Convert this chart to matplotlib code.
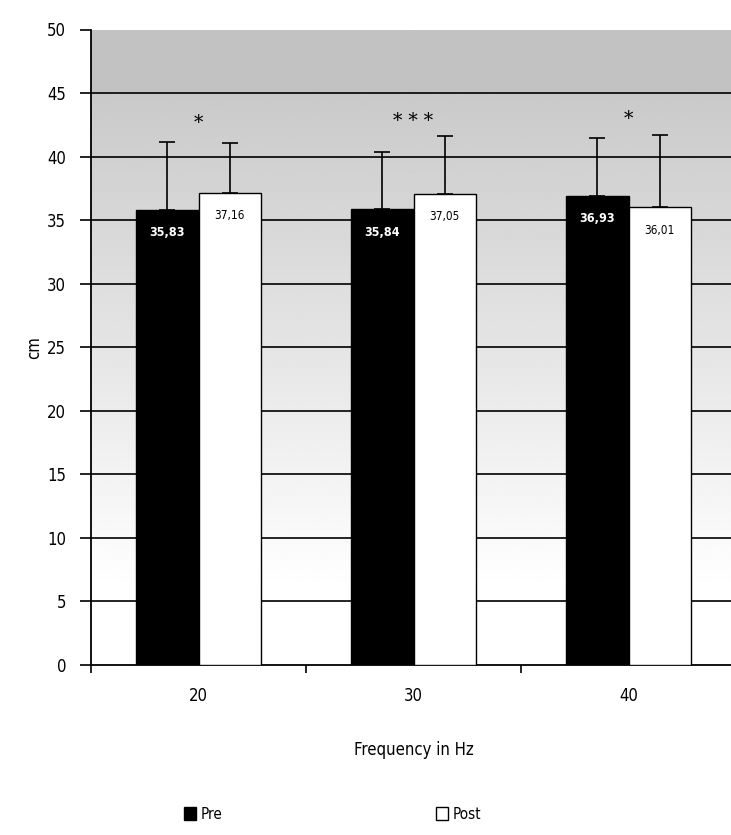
import numpy as np
import matplotlib
matplotlib.use("Agg")
import matplotlib.pyplot as plt
from matplotlib.patches import Patch

categories = ["20", "30", "40"]
pre = [35.83, 35.84, 36.93]
post = [37.16, 37.05, 36.01]
pre_err = [5.3, 4.5, 4.5]
post_err = [3.9, 4.6, 5.7]
pre_labels = ["35,83", "35,84", "36,93"]
post_labels = ["37,16", "37,05", "36,01"]
stars = ["*", "* * *", "*"]
star_y = [42.6, 42.8, 42.9]

plt.rcParams['font.family'] = ['DejaVu Sans']
plt.rcParams['font.stretch'] = 'condensed'

fig = plt.figure(figsize=(7.31, 8.35), dpi=100)
W, H = 731, 835
ax = fig.add_axes([91 / W, (H - 665) / H, 645 / W, 635.5 / H])

# background gradient
yy = np.linspace(0, 50, 400)
g = np.where(yy >= 45, 0.76, np.clip(1.0 - (yy - 6) / 39 * 0.21, 0.79, 1.0))
img = np.repeat(g[:, None], 2, axis=1)
ax.imshow(img, extent=[-0.5, 2.5, 0, 50], origin='lower', aspect='auto',
          cmap='gray', vmin=0, vmax=1, zorder=0, interpolation='bilinear')

for yv in range(5, 50, 5):
    ax.axhline(yv, color='black', lw=1.2, zorder=1)

x = np.arange(len(categories))
w = 0.29
ax.bar(x - w / 2, pre, w, color='black', edgecolor='black', lw=1, zorder=3, label='Pre')
ax.bar(x + w / 2, post, w, color='white', edgecolor='black', lw=1, zorder=3, label='Post')
ax.errorbar(x - w / 2, pre, yerr=[np.zeros(3), pre_err], fmt='none', ecolor='black',
            elinewidth=1.2, capsize=6, capthick=1.2, zorder=2)
ax.errorbar(x + w / 2, post, yerr=[np.zeros(3), post_err], fmt='none', ecolor='black',
            elinewidth=1.2, capsize=6, capthick=1.2, zorder=2)

for i in range(3):
    ax.text(x[i] - w / 2, pre[i] - 1.8, pre_labels[i], color='white', ha='center',
            va='center', fontsize=9, fontweight='bold', zorder=4)
    ax.text(x[i] + w / 2, post[i] - 1.8, post_labels[i], color='black', ha='center',
            va='center', fontsize=8.5, zorder=4)
    ax.text(x[i], star_y[i], stars[i], ha='center', va='center', fontsize=15,
            family='DejaVu Serif', zorder=4)

ax.set_xlim(-0.5, 2.5)
ax.set_ylim(0, 50)
ax.set_yticks(range(0, 51, 5))
ax.set_xticks(x)
ax.set_xticklabels(categories)
ax.set_xticks([-0.5, 0.5, 1.5], minor=True)
ax.tick_params(axis='x', which='major', length=0, pad=16, labelsize=12)
ax.tick_params(axis='x', which='minor', length=6, width=1.2, direction='out')
ax.tick_params(axis='y', length=8, width=1.2, direction='out', labelsize=12, pad=10)
for s in ['top', 'right']:
    ax.spines[s].set_visible(False)
for s in ['left', 'bottom']:
    ax.spines[s].set_linewidth(1.3)
ax.set_ylabel('cm', fontsize=12, labelpad=14)
ax.yaxis.set_label_coords(-0.075, 0.5)
ax.set_xlabel('Frequency in Hz', fontsize=12, labelpad=26)

fig.legend(handles=[Patch(facecolor='black', edgecolor='black'),
                    Patch(facecolor='white', edgecolor='black')],
           labels=['Pre', 'Post'], ncol=2, frameon=False, loc='center',
           bbox_to_anchor=(0.455, 0.025), fontsize=11, columnspacing=14,
           handlelength=0.8, handleheight=1.0, handletextpad=0.3)

fig.savefig('out.png', dpi=100)
